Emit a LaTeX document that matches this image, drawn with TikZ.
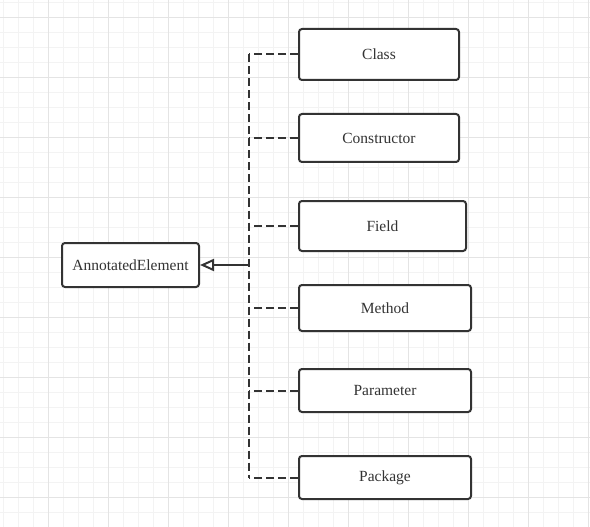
\documentclass[tikz,border=0pt]{standalone}
\usepackage{fontspec}
\setmainfont{Liberation Serif}
\usetikzlibrary{arrows.meta}
\definecolor{ink}{HTML}{333333}
\definecolor{gridminor}{HTML}{F3F3F3}
\definecolor{gridmajor}{HTML}{E4E4E4}
\begin{document}
\begin{tikzpicture}[x=1pt,y=-1pt,
  box/.style={draw=ink, line width=2pt, rounded corners=3pt, fill=white, inner sep=0pt,
    font=\fontsize{15.5}{17}\selectfont, text=ink},
  link/.style={draw=ink, line width=2pt, dash pattern=on 8pt off 4pt},
  solidlink/.style={draw=ink, line width=2pt}]
\useasboundingbox (0,0) rectangle (590,527);
\fill[white] (0,0) rectangle (590,527);
% grid
\foreach \x in {3,18,...,588} \draw[gridminor, line width=0.8pt] (\x,0) -- (\x,527);
\foreach \y in {2,17,...,527} \draw[gridminor, line width=0.8pt] (0,\y) -- (590,\y);
\foreach \x in {48,108,...,588} \draw[gridmajor, line width=0.9pt] (\x,0) -- (\x,527);
\foreach \y in {17,77,...,527} \draw[gridmajor, line width=0.9pt] (0,\y) -- (590,\y);
% nodes
\node[box, minimum width=137pt, minimum height=44pt] (ae) at (130.5,265) {AnnotatedElement};
\node[box, minimum width=160pt, minimum height=51pt] (cls) at (379,54.5) {Class};
\node[box, minimum width=160pt, minimum height=48pt] (ctor) at (379,138) {Constructor};
\node[box, minimum width=167pt, minimum height=50pt] (fld) at (382.5,226) {Field};
\node[box, minimum width=172pt, minimum height=46pt] (mth) at (385,308) {Method};
\node[box, minimum width=172pt, minimum height=43pt] (par) at (385,390.5) {Parameter};
\node[box, minimum width=172pt, minimum height=43pt] (pkg) at (385,477.5) {Package};
% connectors
\coordinate (j) at (249,265);
\coordinate (jt) at (249,54.5);
\coordinate (jb) at (249,477.5);
\foreach \n in {cls,ctor,fld,mth,par,pkg}
  \draw[link] (\n.west) -- (\n.west -| j);
\draw[link] (jt) -- (jb);
\draw[solidlink, -{Triangle[open, length=14pt, width=12pt, line width=2pt]}] (j) -- (ae.east);
\end{tikzpicture}
\end{document}
